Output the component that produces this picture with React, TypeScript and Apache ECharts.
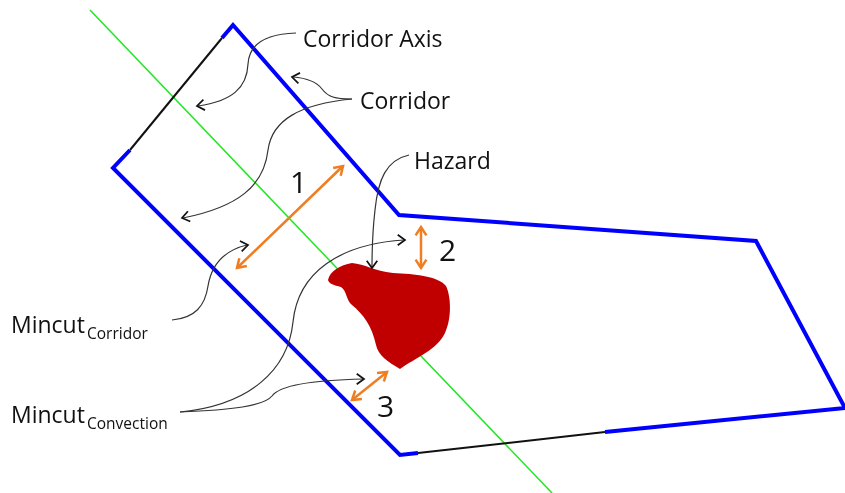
import React, { useEffect, useRef } from "react";
import * as echarts from "echarts";

// ---- diagram content ----
const labels = ["Corridor Axis", "Corridor", "Hazard"];
const mincutMain = "Mincut";
const mincutSubs = ["Corridor", "Convection"];
const numbers = ["1", "2", "3"];

// corridor outline (blue / black parts)
const blueA: number[][] = [[222, 38], [233, 25], [399, 215], [756, 241], [845, 408], [605, 432]];
const blackBottom: number[][] = [[605, 432], [418, 453]];
const blueB: number[][] = [[418, 453], [400, 455], [113, 168], [130, 150]];
const blackTop: number[][] = [[130, 150], [222, 38]];
const axisLine: number[][] = [[90, 10], [552, 493]];

// orange double arrows
const mincuts: number[][][] = [
  [[237, 268], [343, 166]],
  [[421, 227], [421, 268]],
  [[352, 400], [387, 372]],
];

// annotation curves: path + arrow tip + point before tip
const curves: { d: string; tip: number[]; from: number[] }[] = [
  { d: "M 296 33 C 265 34 249 45 248 64 C 247 88 232 101 198 106", tip: [197, 106], from: [210, 104] },
  { d: "M 352 99 C 335 99 328 97 322 89 C 316 81 306 78 293 77", tip: [292, 77], from: [305, 79] },
  { d: "M 352 99 C 300 104 272 120 268 150 C 264 186 238 207 183 218", tip: [182, 218], from: [195, 215] },
  { d: "M 409 155 C 386 160 378 180 375 210 C 372 236 372 250 372 267", tip: [372, 268], from: [372, 256] },
  { d: "M 172 320 C 195 318 205 306 208 286 C 212 262 226 250 247 245", tip: [248, 245], from: [236, 247] },
  { d: "M 180 412 C 250 405 288 370 293 322 C 298 272 340 244 404 240", tip: [405, 240], from: [392, 240] },
  { d: "M 180 412 C 232 410 264 406 272 396 C 280 385 318 380 363 379", tip: [364, 379], from: [351, 379] },
];

const hazardPath =
  "M 328 280 C 330 271 340 265 352 263 C 365 264 374 271 393 273 C 415 274 438 276 446 286 " +
  "C 451 296 452 318 445 333 C 437 350 415 358 400 369 C 388 362 378 355 376 345 " +
  "C 372 326 363 314 352 305 C 346 300 347 291 341 287 C 334 285 329 284 328 280 Z";

echarts.graphic.registerShape("hazardBlob", echarts.graphic.extendPath(hazardPath, {}));
curves.forEach((c, i) => {
  echarts.graphic.registerShape("annot" + i, echarts.graphic.extendPath(c.d, {}));
});

function chevron(tip: number[], from: number[], size: number, ang: number) {
  const dx = tip[0] - from[0];
  const dy = tip[1] - from[1];
  const a = Math.atan2(dy, dx);
  const p1 = [tip[0] - size * Math.cos(a - ang), tip[1] - size * Math.sin(a - ang)];
  const p2 = [tip[0] - size * Math.cos(a + ang), tip[1] - size * Math.sin(a + ang)];
  return [p1, tip, p2];
}

const FONT = '"Open Sans", "DejaVu Sans", sans-serif';
const ORANGE = "#ef7d22";

function txt(s: string, x: number, y: number, size: number) {
  return {
    type: "text",
    x,
    y,
    style: {
      text: s,
      font: `${size}px ${FONT}`,
      fill: "#111",
      align: "left",
      verticalAlign: "middle",
      textAlign: "left",
      textVerticalAlign: "middle",
    },
  };
}

export default function App() {
  const ref = useRef<HTMLDivElement>(null);
  useEffect(() => {
    if (!ref.current) return;
    const chart = echarts.init(ref.current, null, { renderer: "svg" });
    const els: any[] = [];
    els.push({ type: "rect", shape: { x: 0, y: 0, width: 845, height: 493 }, style: { fill: "#fff" } });
    // corridor axis
    els.push({ type: "polyline", shape: { points: axisLine }, style: { stroke: "#22e622", lineWidth: 1.5, fill: "none" } });
    // corridor outline
    els.push({ type: "polyline", shape: { points: blueA }, style: { stroke: "#0000ff", lineWidth: 4, fill: "none", lineJoin: "miter" } });
    els.push({ type: "polyline", shape: { points: blueB }, style: { stroke: "#0000ff", lineWidth: 4, fill: "none", lineJoin: "miter" } });
    els.push({ type: "polyline", shape: { points: blackBottom }, style: { stroke: "#111", lineWidth: 2, fill: "none" } });
    els.push({ type: "polyline", shape: { points: blackTop }, style: { stroke: "#111", lineWidth: 2, fill: "none" } });
    // hazard
    els.push({ type: "hazardBlob", style: { fill: "#c00000", stroke: "none" } });
    // annotation curves
    curves.forEach((c, i) => {
      els.push({ type: "annot" + i, style: { stroke: "#333", lineWidth: 1.2, fill: "none" } });
      els.push({
        type: "polyline",
        shape: { points: chevron(c.tip, c.from, 9, Math.PI / 5) },
        style: { stroke: "#111", lineWidth: 1.7, fill: "none" },
      });
    });
    // orange double arrows
    mincuts.forEach((m) => {
      const [a, b] = m;
      els.push({ type: "polyline", shape: { points: [a, b] }, style: { stroke: ORANGE, lineWidth: 2.5, fill: "none" } });
      els.push({ type: "polyline", shape: { points: chevron(b, a, 10, Math.PI / 5.5) }, style: { stroke: ORANGE, lineWidth: 2.5, fill: "none" } });
      els.push({ type: "polyline", shape: { points: chevron(a, b, 10, Math.PI / 5.5) }, style: { stroke: ORANGE, lineWidth: 2.5, fill: "none" } });
    });
    // labels
    els.push(txt(labels[0], 303, 38, 23));
    els.push(txt(labels[1], 360, 100, 23));
    els.push(txt(labels[2], 414, 160, 23));
    els.push(txt(mincutMain, 11, 324, 23));
    els.push(txt(mincutSubs[0], 87, 333, 15.5));
    els.push(txt(mincutMain, 11, 414, 23));
    els.push(txt(mincutSubs[1], 87, 423, 15.5));
    els.push(txt(numbers[0], 290, 181, 30));
    els.push(txt(numbers[1], 439, 249, 30));
    els.push(txt(numbers[2], 377, 405, 30));

    chart.setOption({ animation: false, graphic: { elements: els } });
    return () => chart.dispose();
  }, []);
  return <div ref={ref} style={{ position: "fixed", left: 0, top: 0, width: 845, height: 493 }} />;
}
